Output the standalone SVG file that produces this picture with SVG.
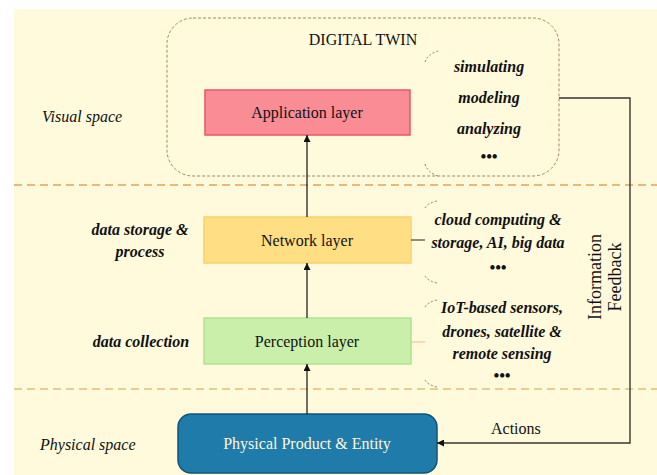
<svg xmlns="http://www.w3.org/2000/svg" width="657" height="475" viewBox="0 0 657 475">
<style>
.t{font-family:"Liberation Serif","Times New Roman",serif;font-size:16px;fill:#111;}
.c{text-anchor:middle;}
.bi{font-weight:bold;font-style:italic;}
.it{font-style:italic;}
.box{stroke-width:1.5;}
.ln{stroke:#111;stroke-width:1.2;fill:none;}
.arc{stroke:#8a7a66;stroke-width:1;fill:none;stroke-dasharray:2 2;}
.sep1{stroke:#E6A355;stroke-width:1.6;stroke-dasharray:8 5;}
.sep2{stroke:#E3BF7C;stroke-width:1.6;stroke-dasharray:8 5;}
</style>
<defs>
<marker id="ah" viewBox="0 0 10 10" refX="10" refY="5" markerWidth="7" markerHeight="7" orient="auto" markerUnits="userSpaceOnUse">
<path d="M0,0 L10,5 L0,10 z" fill="#111"/>
</marker>
</defs>
<rect x="0" y="0" width="657" height="475" fill="#ffffff"/>
<rect x="14" y="9" width="643" height="466" fill="#FFFADC"/>

<g id="separators">
<line class="sep1" x1="14" y1="185" x2="657" y2="185"/>
<line class="sep2" x1="14" y1="389" x2="657" y2="389"/>
</g>

<g id="digital-twin">
<rect x="167" y="18" width="392" height="158" rx="26" ry="26" fill="none" stroke="#A8875A" stroke-width="1" stroke-dasharray="3 2"/>
<text class="t c" x="363" y="45">DIGITAL TWIN</text>
</g>

<g id="labels-left">
<text class="t it" x="42" y="122">Visual space</text>
<text class="t bi c" x="140" y="235">data storage &amp;</text>
<text class="t bi c" x="140" y="257">process</text>
<text class="t bi c" x="141" y="347">data collection</text>
<text class="t it" x="40" y="450">Physical space</text>
</g>

<g id="application-layer">
<rect class="box" x="205" y="90" width="205" height="45" fill="#FA8C96" stroke="#E8566C"/>
<text class="t c" x="307" y="118">Application layer</text>
</g>

<g id="network-layer">
<rect class="box" x="204" y="217" width="207" height="46" fill="#FFDE84" stroke="#F8D173"/>
<text class="t c" x="307" y="246">Network layer</text>
</g>

<g id="perception-layer">
<rect class="box" x="204" y="318" width="207" height="46" fill="#C9EFAA" stroke="#B2E194"/>
<text class="t c" x="307" y="347">Perception layer</text>
</g>

<g id="physical-entity">
<rect x="178" y="414" width="259" height="59" rx="13" ry="13" fill="#1F7CAA" stroke="#0F5478" stroke-width="1.5"/>
<text class="t c" x="307" y="449" fill="#FFF6DC" style="fill:#FFF6DC">Physical Product &amp; Entity</text>
</g>

<g id="app-functions">
<path class="arc" d="M425,62 Q428,54 438,51"/>
<path class="arc" d="M425,164 Q428,173 438,176"/>
<text class="t bi c" x="489" y="72">simulating</text>
<text class="t bi c" x="489" y="103">modeling</text>
<text class="t bi c" x="489" y="134">analyzing</text>
<text class="t bi c" x="489" y="162">•••</text>
</g>

<g id="network-functions">
<path class="arc" d="M425,208 Q428,203 437,201"/>
<path class="arc" d="M425,276 Q428,281 437,283"/>
<text class="t bi c" x="498" y="225">cloud computing &amp;</text>
<text class="t bi c" x="498" y="248">storage, AI, big data</text>
<text class="t bi c" x="498" y="273">•••</text>
</g>

<g id="perception-functions">
<path class="arc" d="M425,307 Q428,302 437,300"/>
<path class="arc" d="M425,380 Q428,385 437,387"/>
<text class="t bi c" x="502" y="313">IoT-based sensors,</text>
<text class="t bi c" x="502" y="337">drones, satellite &amp;</text>
<text class="t bi c" x="502" y="359">remote sensing</text>
<text class="t bi c" x="502" y="381">•••</text>
</g>

<g id="connectors">
<line class="ln" x1="307" y1="217" x2="307" y2="135" marker-end="url(#ah)"/>
<line class="ln" x1="307" y1="318" x2="307" y2="263" marker-end="url(#ah)"/>
<line class="ln" x1="307" y1="414" x2="307" y2="364" marker-end="url(#ah)"/>
<line x1="411" y1="240" x2="425" y2="240" stroke="#222" stroke-width="1"/>
<line x1="411" y1="342" x2="425" y2="342" stroke="#EDBE8A" stroke-width="1"/>
<polyline points="559,98 630,98 630,443 437,443" fill="none" stroke="#3a3530" stroke-width="1.4" marker-end="url(#ah)"/>
</g>

<g id="feedback-labels">
<text class="t c" x="0" y="0" style="font-size:18px" transform="translate(601,277) rotate(-90)">Information</text>
<text class="t c" x="0" y="0" style="font-size:18px" transform="translate(621,277) rotate(-90)">Feedback</text>
<text class="t" x="491" y="434">Actions</text>
</g>
</svg>
